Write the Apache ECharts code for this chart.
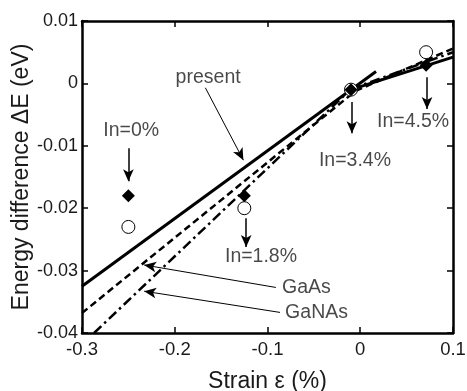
<!DOCTYPE html>
<html><head><meta charset="utf-8">
<script src="https://cdn.jsdelivr.net/npm/echarts@6/dist/echarts.min.js"></script>
<style>html,body{margin:0;padding:0;background:#fff}#c{width:467px;height:391px}</style>
</head><body><div id="c"></div>
<script>
// ---- data ----
const xTicks = [-0.3, -0.2, -0.1, 0, 0.1];
const xTickLabels = ['-0.3', '-0.2', '-0.1', '0', '0.1'];
const yTicks = [0.01, 0, -0.01, -0.02, -0.03, -0.04];
const yTickLabels = ['0.01', '0', '-0.01', '-0.02', '-0.03', '-0.04'];

const strainPts = [-0.25, -0.125, -0.01, 0.071];
const diamondVals = [-0.018, -0.018, -0.001, 0.0029];
const circleVals = [-0.023, -0.020, -0.001, 0.005];

const presentSteep = [[-0.3, -0.0325], [0.017, 0.0019]];
const presentFlat = [[-0.01, -0.001], [0.1, 0.0042]];
const gaasSteep = [[-0.3, -0.0368], [-0.005, -0.0012]];
const gaasFlat = [[-0.005, -0.0012], [0.1, 0.0056]];
const ganasSteep = [[-0.287, -0.04], [-0.01, -0.0009]];
const ganasFlat = [[-0.01, -0.0009], [0.1, 0.005]];

const labelTexts = ['present', 'In=0%', 'In=1.8%', 'In=3.4%', 'In=4.5%', 'GaAs', 'GaNAs'];
const labelPos = [[-0.164, 0.0010], [-0.247, -0.0075], [-0.107, -0.0278], [-0.0057, -0.0123], [0.057, -0.0062], [-0.0844, -0.0328], [-0.081, -0.0367]];
const labelAlign = ['center', 'center', 'center', 'center', 'center', 'left', 'left'];

const arrowFrom = [[-0.167, -0.0007], [-0.25, -0.0104], [-0.123, -0.0216], [-0.009, -0.0030], [0.072, 0.0010], [-0.091, -0.0327], [-0.0865, -0.0367]];
const arrowTo = [[-0.126, -0.0123], [-0.25, -0.0157], [-0.123, -0.0262], [-0.009, -0.0080], [0.072, -0.0041], [-0.233, -0.0291], [-0.233, -0.0333]];
const arrowWidth = [1, 1.5, 1.5, 1.5, 1.5, 1, 1];

// ---- chart ----
const font = 'Liberation Sans, Arial, sans-serif';
const txt = '#1a1a1a';
const chart = echarts.init(document.getElementById('c'));
const fmt = (arr, labels) => v => {
  for (let i = 0; i < arr.length; i++) if (Math.abs(v - arr[i]) < 1e-9) return labels[i];
  return '';
};
const axisBase = {
  type: 'value',
  axisLine: { show: true, onZero: false, lineStyle: { color: '#000', width: 2.5 } },
  axisTick: { show: true, inside: true, length: 6, lineStyle: { color: '#000', width: 1.5 } },
  splitLine: { show: false }
};
const lineSeries = (data, dash, w) => ({
  type: 'line', data: data, symbol: 'none', silent: true,
  lineStyle: { color: '#000', width: w || 2.5, type: dash },
  z: 3, animation: false
});

const markLines = arrowFrom.map((f, i) => [
  { coord: f, lineStyle: { width: arrowWidth[i], color: '#000', type: 'solid' } },
  { coord: arrowTo[i] }
]);

chart.setOption({
  animation: false,
  grid: { left: 82, right: 14, top: 21, bottom: 58, containLabel: false, outerBoundsMode: 'none' },
  xAxis: [
    Object.assign({}, axisBase, {
      min: -0.3, max: 0.1, interval: 0.1, position: 'bottom',
      name: 'Strain ε (%)', nameLocation: 'middle', nameGap: 37, nameMoveOverlap: false,
      nameTextStyle: { fontSize: 23, color: txt, fontFamily: font },
      axisLabel: { fontSize: 18.5, color: txt, fontFamily: font, margin: 7, formatter: fmt(xTicks, xTickLabels) }
    }),
    Object.assign({}, axisBase, {
      min: -0.3, max: 0.1, interval: 0.1, position: 'top',
      axisLabel: { show: false }
    })
  ],
  yAxis: [
    Object.assign({}, axisBase, {
      min: -0.04, max: 0.01, interval: 0.01, position: 'left',
      name: 'Energy difference ΔE (eV)', nameLocation: 'middle', nameGap: 49, nameRotate: 90, nameMoveOverlap: false,
      nameTextStyle: { fontSize: 23, color: txt, fontFamily: font },
      axisLabel: { fontSize: 18, color: txt, fontFamily: font, margin: 4, formatter: fmt(yTicks, yTickLabels) }
    }),
    Object.assign({}, axisBase, {
      min: -0.04, max: 0.01, interval: 0.01, position: 'right',
      axisLabel: { show: false }
    })
  ],
  series: [
    lineSeries(presentSteep, 'solid', 3),
    lineSeries(presentFlat, 'solid', 3),
    lineSeries(gaasSteep, [7, 4]),
    lineSeries(gaasFlat, [7, 4]),
    lineSeries(ganasSteep, [10, 4, 2.5, 4]),
    lineSeries(ganasFlat, [10, 4, 2.5, 4]),
    {
      type: 'scatter', symbol: 'circle', symbolSize: 13, z: 4,
      data: strainPts.map((x, i) => [x, circleVals[i]]),
      itemStyle: { color: '#fff', borderColor: '#000', borderWidth: 1, opacity: 1 }
    },
    {
      type: 'scatter', symbol: 'diamond', symbolSize: [13, 13], z: 5,
      data: strainPts.map((x, i) => [x, diamondVals[i]]),
      itemStyle: { color: '#000', opacity: 1 }
    },
    {
      type: 'scatter', symbolSize: 0, silent: true, z: 6,
      data: labelPos.map((p, i) => ({
        value: p,
        label: { show: true, formatter: labelTexts[i], position: labelAlign[i] === 'left' ? 'right' : 'inside',
                 distance: 0, fontSize: 19.5, color: txt, fontFamily: font }
      })),
      markLine: {
        silent: true, animation: false,
        symbol: ['none', 'arrow'], symbolSize: [8, 12],
        label: { show: false },
        lineStyle: { color: '#000', type: 'solid' },
        data: markLines
      }
    }
  ]
});
</script></body></html>
